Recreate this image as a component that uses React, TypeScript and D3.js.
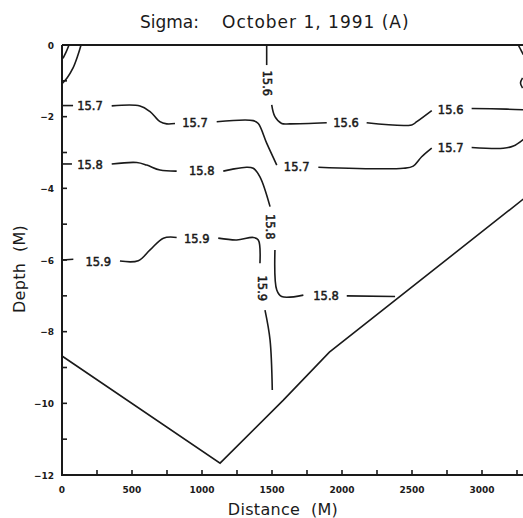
import React from 'react';
import * as d3 from 'd3';

const W = 523;
const H = 518;
const margin = { top: 45, right: -1, bottom: 43, left: 62 };

// axis ticks
const xTickValues = d3.range(0, 3251, 250);
const xTickLabels = [0, 500, 1000, 1500, 2000, 2500, 3000];
const yTickValues = d3.range(0, -12.5, -1);
const yTickLabels = [0, -2, -4, -6, -8, -10, -12];

// bottom profile (distance m, depth m)
const bottomProfile: [number, number][] = [
  [0, -8.68], [1129, -11.67], [1581, -9.91], [1910, -8.57], [3295, -4.3],
];

// contour segments, broken where the labels sit
const contour156: [number, number][][] = [
  [[1462, 0], [1462, -0.56]],
  [[1498, -1.67], [1521, -2.0], [1569, -2.19], [1629, -2.2], [1891, -2.17]],
  [[2176, -2.17], [2498, -2.23], [2534, -2.14], [2641, -1.83]],
  [[2926, -1.77], [3176, -1.79], [3300, -1.81]],
];
const contour157: [number, number][][] = [
  [[0, -1.69], [79, -1.69]],
  [[355, -1.7], [557, -1.7], [629, -1.86], [700, -2.14], [748, -2.2], [807, -2.19]],
  [[1105, -2.14], [1366, -2.11], [1402, -2.19], [1462, -2.74], [1534, -3.35]],
  [[1831, -3.41], [2438, -3.44], [2509, -3.38], [2569, -3.12], [2641, -2.88]],
  [[2926, -2.86], [3152, -2.88], [3224, -2.82], [3300, -2.62]],
];
const contour158: [number, number][][] = [
  [[0, -3.32], [71, -3.32]],
  [[355, -3.32], [534, -3.28], [605, -3.35], [700, -3.49], [819, -3.52]],
  [[1152, -3.52], [1212, -3.47], [1319, -3.41], [1366, -3.44], [1414, -3.68], [1486, -4.51]],
  [[1521, -5.72], [1534, -6.84], [1569, -7.02], [1724, -6.98]],
  [[2034, -7.0], [2379, -7.02]],
];
const contour159: [number, number][][] = [
  [[0, -6.0], [81, -5.98]],
  [[414, -6.03], [545, -6.02], [629, -5.72], [724, -5.39], [819, -5.37]],
  [[1116, -5.39], [1248, -5.44], [1366, -5.37], [1402, -5.44], [1414, -6.09]],
  [[1450, -7.4], [1486, -8.23], [1502, -9.63]],
];
// small pieces at the corners
const cornerPieces: [number, number][][] = [
  [[136, 0], [114, -0.28], [79, -0.64], [36, -0.92], [2, -1.07]],
  [[50, 0], [29, -0.2], [7, -0.37]],
  [[3259, 0], [3295, -0.27]],
  [[3290, -0.92], [3275, -1.06], [3290, -1.2]],
];

const labelText = ['15.6', '15.7', '15.8', '15.9'];
const labelDist = [1462, 2029, 2776, 200, 950, 1676, 2776, 200, 998, 1486, 1886, 259, 962, 1426];
const labelDepth = [-1.07, -2.19, -1.81, -1.7, -2.19, -3.41, -2.88, -3.35, -3.51, -5.07, -7.0, -6.05, -5.41, -6.79];
const labelLevel = [0, 0, 0, 1, 1, 1, 1, 2, 2, 2, 2, 3, 3, 3];
const labelRot = [90, 0, 0, 0, 0, 0, 0, 0, 0, 90, 0, 0, 0, 90];

const ink = '#1a1a1a';

export default function App() {
  const x = d3.scaleLinear().domain([0, 3300]).range([margin.left, W - margin.right]);
  const y = d3.scaleLinear().domain([0, -12]).range([margin.top, H - margin.bottom]);
  const line = d3.line<[number, number]>()
    .x(d => x(d[0]))
    .y(d => y(d[1]))
    .curve(d3.curveCatmullRom.alpha(0.5));
  const straight = d3.line<[number, number]>().x(d => x(d[0])).y(d => y(d[1]));

  const allContours = [contour156, contour157, contour158, contour159, cornerPieces];
  const x0 = x(0), y0 = y(0), yB = y(-12);

  return (
    <div>
      <style>{`body{margin:0}`}</style>
      <svg width={W} height={H} style={{ display: 'block', background: '#fff' }}>
        {/* title */}
        <text x={140} y={28} fontFamily="DejaVu Sans" fontSize={17} fill={ink}>Sigma:</text>
        <text x={222} y={28} fontFamily="DejaVu Sans" fontSize={17} fill={ink} letterSpacing={1}>
          October 1, 1991 (A)
        </text>

        {/* frame */}
        <path d={`M${x0},${y0}H${W}M${x0},${y0}V${yB}H${W}`} fill="none" stroke={ink} strokeWidth={2} />

        {/* x ticks */}
        {xTickValues.map(v => (
          <line key={'xt' + v} x1={x(v)} x2={x(v)} y1={yB} y2={yB - 5} stroke={ink} strokeWidth={1.6} />
        ))}
        {xTickLabels.map(v => (
          <text key={'xl' + v} x={x(v)} y={493} textAnchor="middle" fontFamily="DejaVu Sans" fontWeight="bold"
            fontSize={9} fill={ink}>{v}</text>
        ))}

        {/* y ticks */}
        {yTickValues.map(v => (
          <line key={'yt' + v} x1={x0} x2={x0 + 5} y1={y(v)} y2={y(v)} stroke={ink} strokeWidth={1.6} />
        ))}
        {yTickLabels.map(v => (
          <text key={'yl' + v} x={54} y={y(v) + 3.5} textAnchor="end" fontFamily="DejaVu Sans" fontWeight="bold"
            fontSize={9} fill={ink}>{v === 0 ? '0' : '\u2212' + Math.abs(v)}</text>
        ))}

        {/* axis titles */}
        <text x={283} y={515} textAnchor="middle" fontFamily="DejaVu Sans" fontSize={16} fill={ink}
          style={{ whiteSpace: 'pre' }} letterSpacing={0.3}>{'Distance  (M)'}</text>
        <text transform="translate(25,269) rotate(-90)" textAnchor="middle" fontFamily="DejaVu Sans" fontSize={16}
          fill={ink} style={{ whiteSpace: 'pre' }} letterSpacing={0.3}>{'Depth  (M)'}</text>

        {/* bottom */}
        <path d={straight(bottomProfile) || ''} fill="none" stroke={ink} strokeWidth={1.6} />

        {/* contours */}
        {allContours.map((segs, i) => segs.map((s, j) => (
          <path key={`c${i}-${j}`} d={line(s) || ''} fill="none" stroke={ink} strokeWidth={1.6} />
        )))}

        {/* contour labels */}
        {labelDist.map((d, i) => (
          <text key={'lab' + i} transform={`translate(${x(d)},${y(labelDepth[i])}) rotate(${labelRot[i]})`}
            textAnchor="middle" dominantBaseline="central" fontFamily="DejaVu Sans" fontSize={11.5}
            fill={ink} stroke={ink} strokeWidth={0.5}>{labelText[labelLevel[i]]}</text>
        ))}
      </svg>
    </div>
  );
}
